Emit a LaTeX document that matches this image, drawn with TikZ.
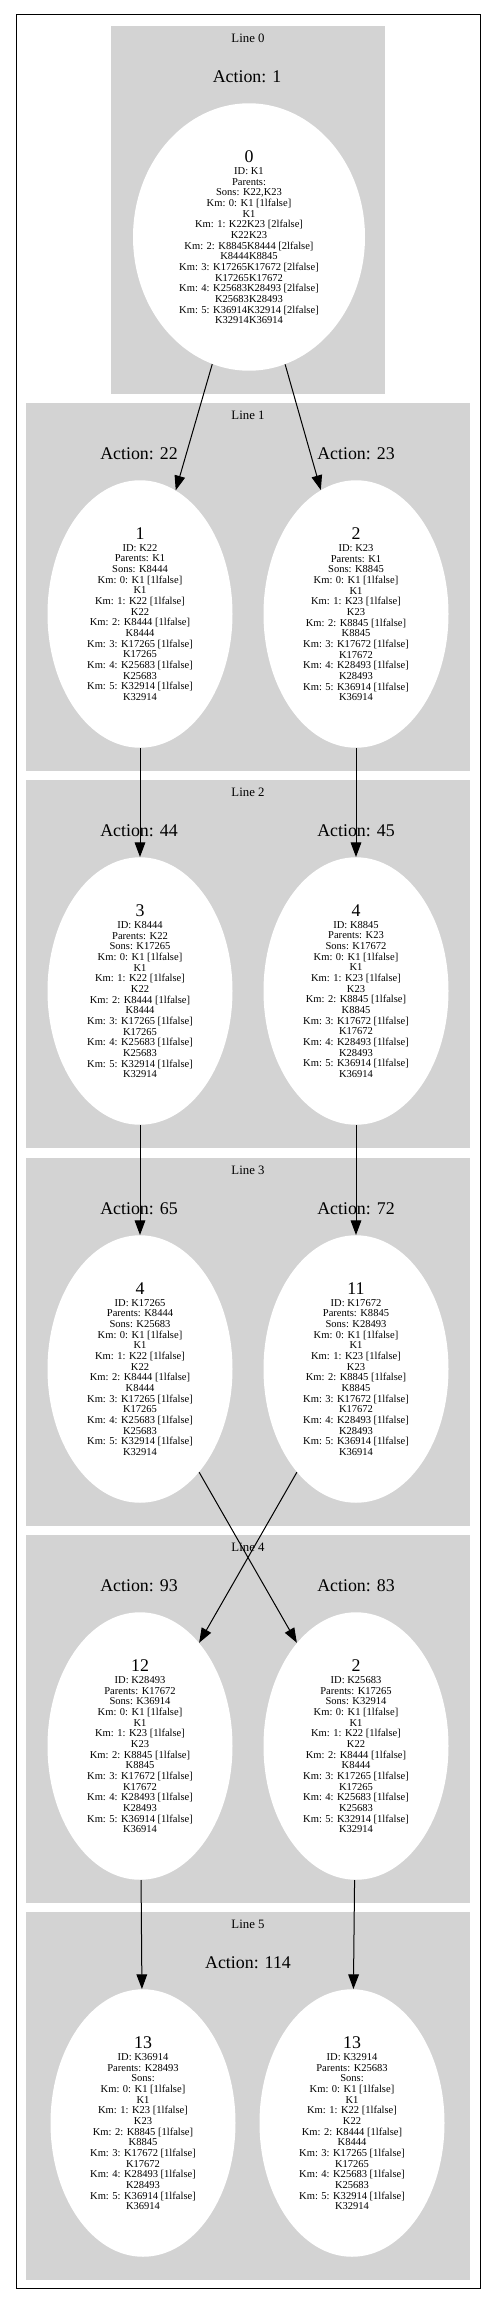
\documentclass[tikz,border=0pt]{standalone}
\usepackage{fontspec}
\setmainfont{Liberation Serif}
\usetikzlibrary{shapes.geometric,arrows.meta}

\definecolor{clustergray}{HTML}{D3D3D3}
\newcommand{\detailfont}{\fontsize{7.9}{8}\selectfont}
\newcommand{\numfont}{\fontsize{13.4}{16}\selectfont}
\newcommand{\actfont}{\fontsize{13.4}{16}\selectfont}
\newcommand{\linefont}{\fontsize{9.6}{11}\selectfont}

% Km chains shared by the two branches
\newcommand{\kmchainA}{Km: 0: K1 [1lfalse]\\ K1\\ Km: 1: K22 [1lfalse]\\ K22\\ Km: 2: K8444 [1lfalse]\\ K8444\\ Km: 3: K17265 [1lfalse]\\ K17265\\ Km: 4: K25683 [1lfalse]\\ K25683\\ Km: 5: K32914 [1lfalse]\\ K32914}
\newcommand{\kmchainB}{Km: 0: K1 [1lfalse]\\ K1\\ Km: 1: K23 [1lfalse]\\ K23\\ Km: 2: K8845 [1lfalse]\\ K8845\\ Km: 3: K17672 [1lfalse]\\ K17672\\ Km: 4: K28493 [1lfalse]\\ K28493\\ Km: 5: K36914 [1lfalse]\\ K36914}

\tikzset{
  cluster/.style={fill=clustergray, draw=none},
  kmnode/.style={ellipse, fill=white, inner sep=0pt, align=center, font=\detailfont,
    minimum width=138.75pt, minimum height=200.6pt},
  actlabel/.style={font=\actfont, inner sep=0pt},
  linelabel/.style={font=\linefont, inner sep=0pt},
  linkarrow/.style={-{Triangle[length=11pt,width=8pt]}, line width=0.75pt}
}

\begin{document}
\begin{tikzpicture}[x=0.75pt, y=-0.75pt]
  \useasboundingbox (0,0) rectangle (496,2305);

  % Outer frame
  \draw[line width=0.75pt] (16,15) rectangle (480,2288);

  % Line clusters
  \fill[cluster] (111,26) rectangle (385,394);
  \fill[cluster] (26,403) rectangle (470,771);
  \fill[cluster] (26,780) rectangle (470,1148);
  \fill[cluster] (26,1158) rectangle (470,1526);
  \fill[cluster] (26,1535) rectangle (470,1903);
  \fill[cluster] (26,1912) rectangle (470,2280);

  \node[linelabel] (line0) at (248,38.5) {Line 0};
  \node[linelabel] (line1) at (248,415.5) {Line 1};
  \node[linelabel] (line2) at (248,792.5) {Line 2};
  \node[linelabel] (line3) at (248,1170.5) {Line 3};
  \node[linelabel] (line4) at (248,1547.5) {Line 4};
  \node[linelabel] (line5) at (248,1924.5) {Line 5};

  % Action labels
  \node[actlabel] (act1) at (247,77) {Action: 1};
  \node[actlabel] (act22) at (139,454) {Action: 22};
  \node[actlabel] (act23) at (356,454) {Action: 23};
  \node[actlabel] (act44) at (139,831) {Action: 44};
  \node[actlabel] (act45) at (356,831) {Action: 45};
  \node[actlabel] (act65) at (139,1209) {Action: 65};
  \node[actlabel] (act72) at (356,1209) {Action: 72};
  \node[actlabel] (act93) at (139,1586) {Action: 93};
  \node[actlabel] (act83) at (356,1586) {Action: 83};
  \node[actlabel] (act114) at (248,1963) {Action: 114};

  % Line 0
  \node[kmnode, minimum width=174pt] (k1) at (249,237)
    {{\numfont 0}\\[1.2pt] ID: K1\\ Parents:\\ Sons: K22,K23\\ Km: 0: K1 [1lfalse]\\ K1\\
     Km: 1: K22K23 [2lfalse]\\ K22K23\\ Km: 2: K8845K8444 [2lfalse]\\ K8444K8845\\
     Km: 3: K17265K17672 [2lfalse]\\ K17265K17672\\ Km: 4: K25683K28493 [2lfalse]\\ K25683K28493\\
     Km: 5: K36914K32914 [2lfalse]\\ K32914K36914};

  % Line 1
  \node[kmnode] (k22) at (140,614)
    {{\numfont 1}\\[1.2pt] ID: K22\\ Parents: K1\\ Sons: K8444\\ \kmchainA};
  \node[kmnode] (k23) at (356,614)
    {{\numfont 2}\\[1.2pt] ID: K23\\ Parents: K1\\ Sons: K8845\\ \kmchainB};

  % Line 2
  \node[kmnode] (k8444) at (140,991)
    {{\numfont 3}\\[1.2pt] ID: K8444\\ Parents: K22\\ Sons: K17265\\ \kmchainA};
  \node[kmnode] (k8845) at (356,991)
    {{\numfont 4}\\[1.2pt] ID: K8845\\ Parents: K23\\ Sons: K17672\\ \kmchainB};

  % Line 3
  \node[kmnode] (k17265) at (140,1369)
    {{\numfont 4}\\[1.2pt] ID: K17265\\ Parents: K8444\\ Sons: K25683\\ \kmchainA};
  \node[kmnode] (k17672) at (356,1369)
    {{\numfont 11}\\[1.2pt] ID: K17672\\ Parents: K8845\\ Sons: K28493\\ \kmchainB};

  % Line 4
  \node[kmnode] (k28493) at (140,1746)
    {{\numfont 12}\\[1.2pt] ID: K28493\\ Parents: K17672\\ Sons: K36914\\ \kmchainB};
  \node[kmnode] (k25683) at (356,1746)
    {{\numfont 2}\\[1.2pt] ID: K25683\\ Parents: K17265\\ Sons: K32914\\ \kmchainA};

  % Line 5
  \node[kmnode] (k36914) at (143,2123)
    {{\numfont 13}\\[1.2pt] ID: K36914\\ Parents: K28493\\ Sons:\\ \kmchainB};
  \node[kmnode] (k32914) at (352,2123)
    {{\numfont 13}\\[1.2pt] ID: K32914\\ Parents: K25683\\ Sons:\\ \kmchainA};

  % Links
  \draw[linkarrow] (k1) -- (k22);
  \draw[linkarrow] (k1) -- (k23);
  \draw[linkarrow] (k22) -- (k8444);
  \draw[linkarrow] (k23) -- (k8845);
  \draw[linkarrow] (k8444) -- (k17265);
  \draw[linkarrow] (k8845) -- (k17672);
  \draw[linkarrow] (k17265) -- (k25683);
  \draw[linkarrow] (k17672) -- (k28493);
  \draw[linkarrow] (k28493) -- (k36914);
  \draw[linkarrow] (k25683) -- (k32914);
\end{tikzpicture}
\end{document}
